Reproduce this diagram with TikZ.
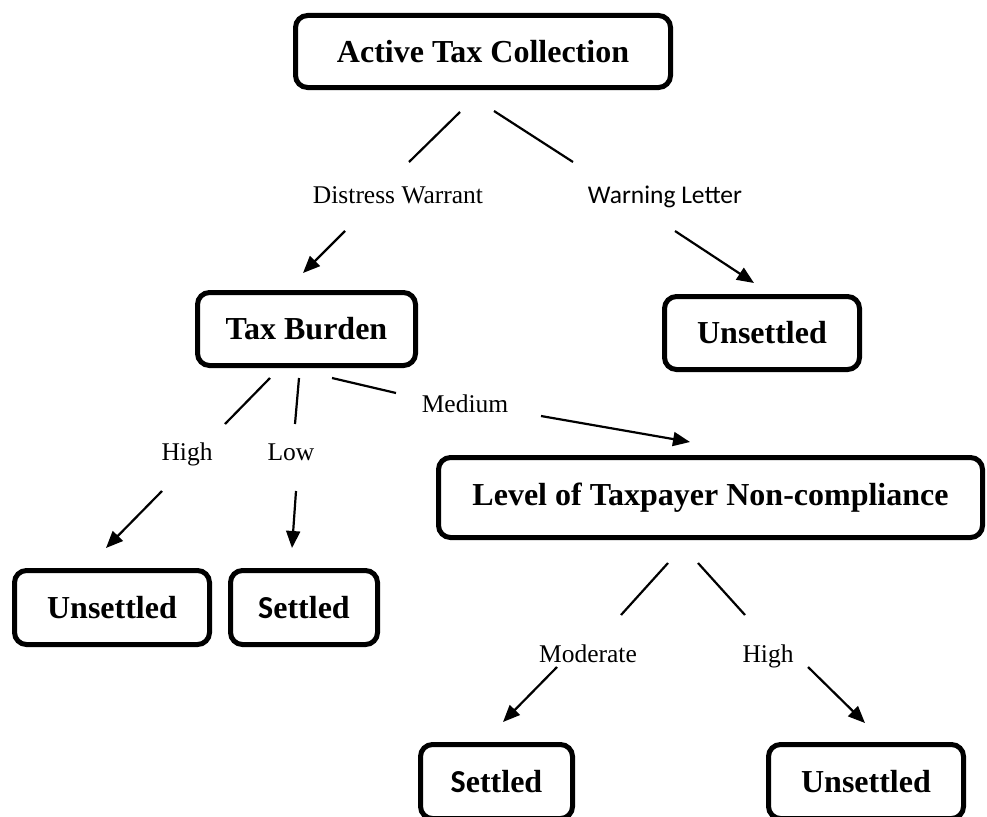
\documentclass[tikz,border=0pt]{standalone}
\usepackage{fontspec}
\setmainfont{Liberation Serif}
\newfontfamily\calibrifont{Carlito}
\usetikzlibrary{arrows.meta}
\tikzset{>={Triangle[length=17pt,width=14pt]}}
\tikzset{
  box/.style={draw, line width=5pt, rounded corners=12pt, inner sep=0pt,
    font=\fontsize{32}{37}\selectfont\bfseries},
  lab/.style={inner sep=0pt, anchor=base, font=\fontsize{25.5}{30}\selectfont},
  conn/.style={line width=2.2pt}
}

\begin{document}
\begin{tikzpicture}[x=1pt,y=-1pt]
    \useasboundingbox (0,0) rectangle (987,816);

    % boxes
    \node[box, minimum width=375pt, minimum height=72pt] (atc) at (483,51.5) {Active Tax Collection};
    \node[box, minimum width=218pt, minimum height=73pt] (tb) at (306.5,329) {Tax Burden};
    \node[box, minimum width=195pt, minimum height=73pt] (ur) at (762,333) {Unsettled};
    \node[box, minimum width=544pt, minimum height=80pt] (lvl) at (710.5,497.5) {Level of Taxpayer Non-compliance};
    \node[box, minimum width=195pt, minimum height=74pt] (ul) at (112,607.5) {Unsettled};
    \node[box, minimum width=147pt, minimum height=74pt] (sl) at (304,607.5) {{\calibrifont S}ettled};
    \node[box, minimum width=152pt, minimum height=74pt] (sb) at (496.5,781.5) {{\calibrifont S}ettled};
    \node[box, minimum width=195pt, minimum height=74pt] (ub) at (866,781.5) {Unsettled};

    % labels
    \node[lab] (dw) at (398,203) {Distress Warrant};
    \node[lab, font=\fontsize{25.5}{30}\calibrifont] (wl) at (665,203) {Warning Letter};
    \node[lab] (med) at (465,412) {Medium};
    \node[lab] (hi) at (187,460) {High};
    \node[lab] (lo) at (291,460) {Low};
    \node[lab] (mod) at (588,662) {Moderate};
    \node[lab] (hi2) at (768,662) {High};

    % connector ends
    \coordinate (dwa) at (460,112);  \coordinate (dwb) at (409,162);
    \coordinate (dwc) at (345,231);  \coordinate (dwd) at (303,273);
    \coordinate (wla) at (494,111);  \coordinate (wlb) at (573,162);
    \coordinate (wlc) at (675,231);  \coordinate (wld) at (754,283);
    \coordinate (hia) at (270,378);  \coordinate (hib) at (225,424);
    \coordinate (hic) at (162,491);  \coordinate (hid) at (106,548);
    \coordinate (loa) at (299,378);  \coordinate (lob) at (295,424);
    \coordinate (loc) at (296,491);  \coordinate (lod) at (292,548);
    \coordinate (meda) at (332,378); \coordinate (medb) at (396,393);
    \coordinate (medc) at (541,416); \coordinate (medd) at (690,442);
    \coordinate (moda) at (668,563); \coordinate (modb) at (621,615);
    \coordinate (modc) at (557,667); \coordinate (modd) at (503,722);
    \coordinate (hxa) at (698,563);  \coordinate (hxb) at (745,615);
    \coordinate (hxc) at (808,667);  \coordinate (hxd) at (865,723);

    % connectors
    \draw[conn] (dwa) -- (dwb);
    \draw[conn,->] (dwc) -- (dwd);
    \draw[conn] (wla) -- (wlb);
    \draw[conn,->] (wlc) -- (wld);
    \draw[conn] (hia) -- (hib);
    \draw[conn,->] (hic) -- (hid);
    \draw[conn] (loa) -- (lob);
    \draw[conn,->] (loc) -- (lod);
    \draw[conn] (meda) -- (medb);
    \draw[conn,->] (medc) -- (medd);
    \draw[conn] (moda) -- (modb);
    \draw[conn,->] (modc) -- (modd);
    \draw[conn] (hxa) -- (hxb);
    \draw[conn,->] (hxc) -- (hxd);
\end{tikzpicture}
\end{document}
